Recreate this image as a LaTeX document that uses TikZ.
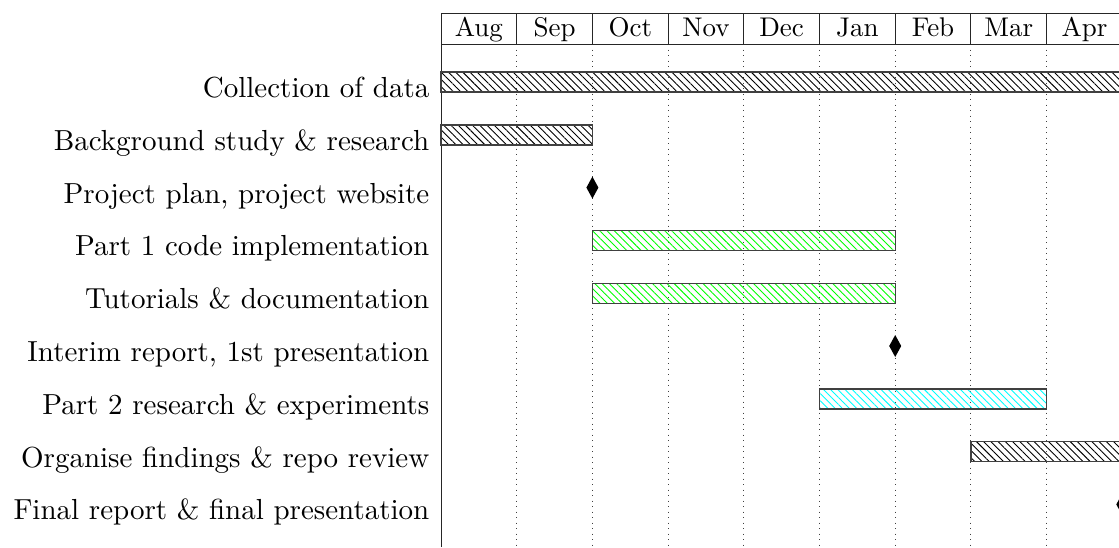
\documentclass[tikz,border=0pt]{standalone}
\usepackage{graphicx}
\usetikzlibrary{patterns.meta}
\newcommand{\labtext}[1]{\scalebox{2.9}{\fontsize{10}{12}\selectfont #1}}
\newcommand{\montext}[1]{\scalebox{2.7}{\fontsize{10}{12}\selectfont #1}}
\begin{document}
\begin{tikzpicture}[x=1pt,y=-1pt,
  lab/.style={anchor=base east,inner sep=0pt},
  mon/.style={anchor=base,inner sep=0pt},
  frame/.style={line width=1pt,draw=black!85},
  grid/.style={line width=0.9pt,draw=black!75,dash pattern=on 1pt off 4.5pt},
  bar/.style={draw=black!75,line width=1.4pt,pattern={Lines[angle=-45,distance=5.1pt,line width=0.9pt]}},
  ms/.style={fill=black}
]
\useasboundingbox (0,0) rectangle (1119,547);
\clip (0,0) rectangle (1119,547);
\def\cw{75.7}
\def\xo{441}
% grid
\foreach \i in {1,...,9}{
  \draw[grid] (\xo+\i*\cw,44) -- (\xo+\i*\cw,547);
}
% title frame
\draw[frame] (\xo,547) -- (\xo,13) -- (1200,13);
\draw[frame] (\xo,44) -- (1200,44);
\foreach \i in {1,...,9}{
  \draw[frame] (\xo+\i*\cw,13) -- (\xo+\i*\cw,44);
}
\foreach \m [count=\i from 0] in {Aug,Sep,Oct,Nov,Dec,Jan,Feb,Mar,Apr}{
  \node[mon] (m\i) at (\xo+\i*\cw+0.5*\cw,36.5) {\montext{\m}};
}
% labels
\foreach \t [count=\k from 0] in {Collection of data,Background study \& research,{Project plan, project website},Part 1 code implementation,Tutorials \& documentation,{Interim report, 1st presentation},Part 2 research \& experiments,Organise findings \& repo review,Final report \& final presentation}{
  \node[lab] (l\k) at (429.5,82+15.5+\k*52.8) {\labtext{\t}};
}
% bars
\path[bar,pattern color=black] (\xo,82-10) rectangle (1200,82+10);
\path[bar,pattern color=black] (\xo,134.8-10) rectangle (\xo+2*\cw,134.8+10);
\path[bar,pattern color=green] (\xo+2*\cw,240.4-10) rectangle (\xo+6*\cw,240.4+10);
\path[bar,pattern color=green] (\xo+2*\cw,293.2-10) rectangle (\xo+6*\cw,293.2+10);
\path[bar,pattern color=cyan] (\xo+5*\cw,398.8-10) rectangle (\xo+8*\cw,398.8+10);
\path[bar,pattern color=black] (\xo+7*\cw,451.6-10) rectangle (\xo+10*\cw,451.6+10);
% milestones
\foreach \x/\y in {2/187.6,6/346,9/504.4}{
  \fill[ms] (\xo+\x*\cw,\y-11) -- (\xo+\x*\cw+6,\y) -- (\xo+\x*\cw,\y+11) -- (\xo+\x*\cw-6,\y) -- cycle;
}
\end{tikzpicture}
\end{document}
